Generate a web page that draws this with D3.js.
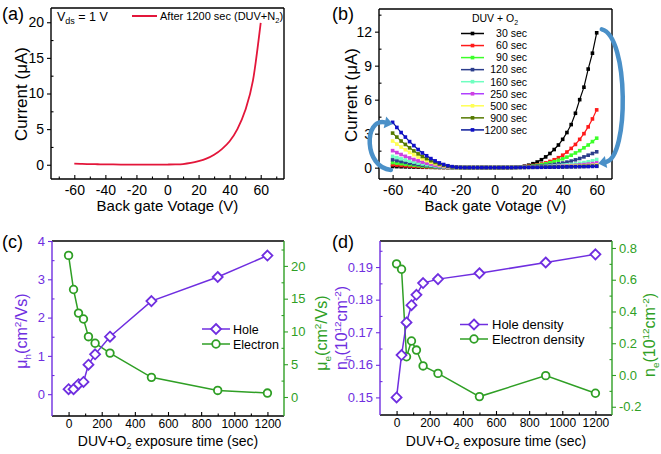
<!DOCTYPE html>
<html><head><meta charset="utf-8">
<script src="https://cdn.jsdelivr.net/npm/d3@7"></script>
<style>body{margin:0;background:#fff}svg{display:block}</style>
</head><body><svg id="c" width="661" height="454"></svg>
<script>
// ---------- DATA ----------
// Panel (a)
const voltsA = [-60,-55,-50,-45,-40,-35,-30,-25,-20,-15,-10,-5,0,5,10,15,20,25,30,35,40,45,50,55,60];
const currentA = [0.15,0.12,0.09,0.07,0.05,0.04,0.03,0.02,0.02,0.02,0.02,0.02,0.03,0.05,0.1,0.25,0.5,0.85,1.4,2.2,3.3,5.0,7.6,11.8,19.9];
// Panel (b)
const voltsB = [-60,-57.5,-55,-52.5,-50,-47.5,-45,-42.5,-40,-37.5,-35,-32.5,-30,-27.5,-25,-22.5,-20,-17.5,-15,-12.5,-10,-7.5,-5,-2.5,0,2.5,5,7.5,10,12.5,15,17.5,20,22.5,25,27.5,30,32.5,35,37.5,40,42.5,45,47.5,50,52.5,55,57.5,60];
const seriesNamesB = ["30 sec","60 sec","90 sec","120 sec","160 sec","250 sec","500 sec","900 sec","1200 sec"];
const i30 = [0.1,0.09,0.08,0.07,0.06,0.05,0.04,0.035,0.03,0.025,0.02,0.015,0.01,0.01,0.01,0.01,0.01,0.01,0.01,0.01,0.01,0.01,0.01,0.01,0.01,0.01,0.01,0.015,0.02,0.04,0.07,0.13,0.22,0.35,0.5,0.7,0.95,1.25,1.6,2.0,2.5,3.1,3.8,4.8,6.0,7.1,8.7,10.1,11.9];
const i60 = [0.26,0.23,0.2,0.17,0.15,0.12,0.1,0.08,0.065,0.05,0.035,0.025,0.02,0.015,0.01,0.01,0.01,0.01,0.01,0.01,0.01,0.01,0.01,0.01,0.01,0.01,0.01,0.015,0.02,0.04,0.06,0.09,0.14,0.19,0.25,0.33,0.42,0.55,0.7,0.88,1.1,1.38,1.7,2.05,2.5,3.0,3.6,4.3,5.1];
const i90 = [0.45,0.4,0.35,0.3,0.26,0.22,0.18,0.15,0.12,0.09,0.07,0.05,0.035,0.02,0.015,0.01,0.01,0.01,0.01,0.01,0.01,0.01,0.01,0.01,0.01,0.01,0.01,0.015,0.02,0.03,0.04,0.06,0.1,0.15,0.2,0.27,0.34,0.43,0.53,0.65,0.78,0.93,1.1,1.3,1.5,1.75,2.0,2.3,2.6];
const i120 = [0.7,0.62,0.54,0.47,0.4,0.34,0.28,0.23,0.18,0.14,0.1,0.07,0.05,0.03,0.02,0.01,0.01,0.01,0.01,0.01,0.01,0.01,0.01,0.01,0.01,0.01,0.015,0.02,0.03,0.04,0.05,0.065,0.08,0.1,0.125,0.155,0.19,0.23,0.28,0.34,0.41,0.49,0.58,0.69,0.81,0.95,1.1,1.25,1.4];
const i160 = [1.0,0.89,0.78,0.68,0.58,0.49,0.4,0.33,0.26,0.2,0.15,0.105,0.07,0.045,0.025,0.01,0.01,0.01,0.01,0.01,0.01,0.01,0.01,0.01,0.01,0.01,0.015,0.02,0.025,0.03,0.04,0.05,0.06,0.07,0.085,0.1,0.12,0.14,0.165,0.19,0.22,0.255,0.29,0.34,0.39,0.45,0.52,0.61,0.72];
const i250 = [1.5,1.33,1.16,1.0,0.86,0.72,0.6,0.49,0.39,0.3,0.22,0.155,0.1,0.065,0.035,0.015,0.01,0.01,0.01,0.01,0.01,0.01,0.01,0.01,0.01,0.01,0.01,0.015,0.02,0.025,0.03,0.035,0.045,0.05,0.06,0.07,0.08,0.095,0.11,0.125,0.14,0.16,0.185,0.21,0.24,0.27,0.31,0.36,0.42];
const i500 = [2.35,2.08,1.82,1.58,1.35,1.14,0.94,0.77,0.62,0.47,0.35,0.25,0.16,0.1,0.05,0.025,0.01,0.01,0.01,0.01,0.01,0.01,0.01,0.01,0.01,0.01,0.01,0.015,0.015,0.02,0.025,0.03,0.035,0.04,0.045,0.05,0.06,0.07,0.08,0.09,0.1,0.11,0.125,0.14,0.155,0.17,0.19,0.21,0.24];
const i900 = [3.05,2.7,2.35,2.05,1.75,1.48,1.22,0.99,0.8,0.61,0.46,0.32,0.21,0.13,0.07,0.03,0.015,0.01,0.01,0.01,0.01,0.01,0.01,0.01,0.01,0.01,0.01,0.01,0.015,0.015,0.02,0.025,0.03,0.03,0.035,0.04,0.045,0.05,0.06,0.065,0.07,0.08,0.09,0.095,0.105,0.115,0.125,0.135,0.15];
const i1200 = [4.0,3.55,3.1,2.7,2.3,1.95,1.6,1.3,1.05,0.8,0.6,0.42,0.28,0.17,0.09,0.04,0.02,0.01,0.01,0.01,0.01,0.01,0.01,0.01,0.01,0.01,0.01,0.01,0.01,0.015,0.02,0.02,0.025,0.03,0.03,0.035,0.04,0.045,0.05,0.055,0.06,0.07,0.075,0.08,0.09,0.095,0.1,0.11,0.12];
// Panels (c), (d)
const expTime = [0,30,60,90,120,160,250,500,900,1200];
const holeMobility = [0.13,0.13,0.26,0.32,0.77,1.04,1.5,2.43,3.06,3.62];
const electronMobility = [21.6,16.4,12.8,11.9,9.2,8.2,6.7,3.0,1.0,0.6];
const holeDensity = [0.150,0.163,0.173,0.1783,0.1815,0.1851,0.1863,0.1881,0.1914,0.1939];
const electronDensity = [0.70,0.666,0.115,0.214,0.157,0.057,0.01,-0.136,-0.004,-0.115];
// ticks
const ticksAX = [-60,-40,-20,0,20,40,60];
const ticksAY = [0,5,10,15,20];
const ticksBY = [0,3,6,9,12];
const ticksTime = [0,200,400,600,800,1000,1200];
const ticksCL = [0,1,2,3,4];
const ticksCR = [0,5,10,15,20];
const ticksDL = [0.15,0.16,0.17,0.18,0.19];
const ticksDR = [-0.2,0.0,0.2,0.4,0.6,0.8];

// ---------- STYLE ----------
const FONT = '"Liberation Sans", Arial, Helvetica, sans-serif';
const PURPLE = "#6f2ee0", GREEN = "#2f9f25";
const colorsB = ["#000000","#ff1a1a","#3cff2a","#2c3e8c","#6fffc0","#b040ff","#ffff55","#557a00","#0a1a99"];
const markerB = ["#000000","#ff1a1a","#3cff2a","#2c3e8c","#6fffc0","#d040e0","#ffff55","#557a00","#1010c8"];
const svg = d3.select("#c").style("font-family", FONT);
const fmt = d => String(d).replace("\u2212","-");

function addAxis(gen, tr, color, fs) {
  const g = svg.append("g").attr("transform", tr).call(gen)
    .attr("font-family", FONT).attr("font-size", fs);
  g.select(".domain").remove();
  g.selectAll("line").attr("stroke", color).attr("stroke-width", 1.1);
  g.selectAll("text").attr("fill", color);
  return g;
}
function minorVals(lo, hi, step, majors) {
  const out = [];
  for (let v = lo; v <= hi + 1e-9; v += step) {
    const r = Math.round(v * 1e6) / 1e6;
    if (!majors.some(m => Math.abs(m - r) < 1e-9)) out.push(r);
  }
  return out;
}
function frame(x0, x1, y0, y1, cl, cr) {
  svg.append("line").attr("x1", x0).attr("x2", x1).attr("y1", y0).attr("y2", y0).attr("stroke", "#000").attr("stroke-width", 1.4);
  svg.append("line").attr("x1", x0).attr("x2", x1).attr("y1", y1).attr("y2", y1).attr("stroke", "#000").attr("stroke-width", 1.4);
  svg.append("line").attr("x1", x0).attr("x2", x0).attr("y1", y0).attr("y2", y1).attr("stroke", cl).attr("stroke-width", 1.4);
  svg.append("line").attr("x1", x1).attr("x2", x1).attr("y1", y0).attr("y2", y1).attr("stroke", cr).attr("stroke-width", 1.4);
}
function panelLabel(txt, x, y) {
  svg.append("text").attr("x", x).attr("y", y).attr("font-size", 18).attr("fill", "#000").text(txt);
}
function yTitle(parts, x, y, size, color) {
  const t = svg.append("text").attr("transform", `translate(${x},${y}) rotate(-90)`)
    .attr("text-anchor", "middle").attr("font-size", size).attr("fill", color);
  parts.forEach(p => {
    const s = t.append("tspan").text(p.t);
    if (p.sub) s.attr("dy", size*0.25).attr("font-size", size*0.62);
    if (p.sup) s.attr("dy", -size*0.38).attr("font-size", size*0.62);
    if (p.back) s.attr("dy", p.back);
  });
  return t;
}

// ---------- PANEL (a) ----------
const xa = d3.scaleLinear().domain([-75,75]).range([51,284]);
const ya = d3.scaleLinear().domain([-2,22]).range([179,8]);
addAxis(d3.axisBottom(xa).tickValues(ticksAX).tickSize(-4).tickPadding(6).tickFormat(fmt), "translate(0,179)", "#000", 14);
addAxis(d3.axisBottom(xa).tickValues(minorVals(-70,70,10,ticksAX)).tickSize(-2.5).tickFormat(""), "translate(0,179)", "#000", 14);
addAxis(d3.axisLeft(ya).tickValues(ticksAY).tickSize(4).tickPadding(3).tickFormat(fmt), "translate(51,0)", "#000", 14);
addAxis(d3.axisLeft(ya).tickValues([2.5,7.5,12.5,17.5]).tickSize(-2.5).tickFormat(""), "translate(51,0)", "#000", 14);
frame(51,284,8,179,"#000","#000");
svg.append("path").datum(voltsA.map((v,i)=>[v,currentA[i]]))
  .attr("d", d3.line().x(d=>xa(d[0])).y(d=>ya(d[1])).curve(d3.curveMonotoneX))
  .attr("fill","none").attr("stroke","#e3163a").attr("stroke-width",1.8);
// legend (a)
{
  const t = svg.append("text").attr("x", 57).attr("y", 21).attr("font-size", 12.5);
  t.append("tspan").text("V");
  t.append("tspan").attr("dy", 3).attr("font-size", 9).text("ds");
  t.append("tspan").attr("dy", -3).text(" = 1 V");
  svg.append("line").attr("x1", 132).attr("x2", 157).attr("y1", 16).attr("y2", 16).attr("stroke", "#e3163a").attr("stroke-width", 2);
  const t2 = svg.append("text").attr("x", 160).attr("y", 20).attr("font-size", 11);
  t2.append("tspan").text("After 1200 sec (DUV+N");
  t2.append("tspan").attr("dy", 3).attr("font-size", 7.5).text("2");
  t2.append("tspan").attr("dy", -3).text(")");
}
svg.append("text").attr("x", 167.5).attr("y", 211).attr("text-anchor","middle").attr("font-size", 15).text("Back gate Votage (V)");
yTitle([{t:"Current (\u03bcA)"}], 27, 94, 17, "#000");
panelLabel("(a)", 2, 20);

// ---------- PANEL (b) ----------
const xb = d3.scaleLinear().domain([-68,69]).range([379,612]);
const yb = d3.scaleLinear().domain([-1,14]).range([179,9]);
addAxis(d3.axisBottom(xb).tickValues(ticksAX).tickSize(-4).tickPadding(6).tickFormat(fmt), "translate(0,179)", "#000", 14);
addAxis(d3.axisBottom(xb).tickValues(minorVals(-60,60,10,ticksAX)).tickSize(-2.5).tickFormat(""), "translate(0,179)", "#000", 14);
addAxis(d3.axisLeft(yb).tickValues(ticksBY).tickSize(4).tickPadding(3).tickFormat(fmt), "translate(379,0)", "#000", 14);
addAxis(d3.axisLeft(yb).tickValues([1.5,4.5,7.5,10.5,13.5]).tickSize(-2.5).tickFormat(""), "translate(379,0)", "#000", 14);
const seriesB = [i30,i60,i90,i120,i160,i250,i500,i900,i1200];
const lineB = d3.line().x(d=>xb(d[0])).y(d=>yb(d[1]));
seriesB.forEach((s, k) => {
  const pts = voltsB.map((v,i)=>[v, s[i]]);
  svg.append("path").datum(pts).attr("d", lineB).attr("fill","none").attr("stroke", colorsB[k]).attr("stroke-width", 1.2);
  svg.append("g").selectAll("rect").data(pts).join("rect")
    .attr("x", d=>xb(d[0])-1.8).attr("y", d=>yb(d[1])-1.8).attr("width",3.6).attr("height",3.6)
    .attr("fill", markerB[k]);
});
frame(379,612,9,179,"#000","#000");
// legend (b)
{
  const t = svg.append("text").attr("x", 495).attr("y", 22).attr("text-anchor","middle").attr("font-size", 10.5);
  t.append("tspan").text("DUV + O");
  t.append("tspan").attr("dy", 3).attr("font-size", 7).text("2");
  seriesNamesB.forEach((name, k) => {
    const yy = 33.5 + k*12.05;
    svg.append("line").attr("x1", 461).attr("x2", 484).attr("y1", yy).attr("y2", yy).attr("stroke", colorsB[k]).attr("stroke-width", 1.5);
    svg.append("rect").attr("x", 470.7).attr("y", yy-1.8).attr("width", 3.6).attr("height", 3.6).attr("fill", markerB[k]);
    svg.append("text").attr("x", 527).attr("y", yy+3.8).attr("text-anchor","end").attr("font-size", 10.5).text(name);
  });
}
// curved arrows (b)
function arrow(p0, c1, c2, p3) {
  const P = a => [xb(a[0]), yb(a[1])];
  const A = P(p0), B = P(c1), C = P(c2), D = P(p3);
  svg.append("path").attr("d", `M${A}C${B} ${C} ${D}`).attr("fill","none")
    .attr("stroke","#4a90c8").attr("stroke-width",4.5).attr("stroke-linecap","round");
  let dx = D[0]-C[0], dy = D[1]-C[1]; const L = Math.hypot(dx,dy); dx/=L; dy/=L;
  const tip = [D[0]+dx*8, D[1]+dy*8], px = -dy, py = dx;
  svg.append("path").attr("d", `M${tip}L${[D[0]+px*6, D[1]+py*6]}L${[D[0]-px*6, D[1]-py*6]}Z`).attr("fill","#4a90c8");
}
arrow([-61,-0.2],[-77,0.0],[-77,4.4],[-64.5,4.0]);
arrow([63,12.2],[79,11.6],[79,0.9],[65.5,0.5]);
svg.append("text").attr("x", 495.5).attr("y", 211).attr("text-anchor","middle").attr("font-size", 15).text("Back gate Votage (V)");
yTitle([{t:"Current (\u03bcA)"}], 357, 95, 17, "#000");
panelLabel("(b)", 332, 20);

// ---------- PANEL (c) ----------
const xc = d3.scaleLinear().domain([-100,1300]).range([52,284]);
const ycl = d3.scaleLinear().domain([-0.57,4.0]).range([416,241]);
const ycr = d3.scaleLinear().domain([-2.9,23.8]).range([416,241]);
addAxis(d3.axisBottom(xc).tickValues(ticksTime).tickSize(-4).tickPadding(3).tickFormat(fmt), "translate(0,416)", "#000", 12);
addAxis(d3.axisBottom(xc).tickValues(minorVals(100,1100,200,[])).tickSize(-2.5).tickFormat(""), "translate(0,416)", "#000", 12);
addAxis(d3.axisLeft(ycl).tickValues(ticksCL).tickSize(4).tickPadding(3).tickFormat(fmt), "translate(52,0)", PURPLE, 13);
addAxis(d3.axisLeft(ycl).tickValues([0.5,1.5,2.5,3.5]).tickSize(-2.5).tickFormat(""), "translate(52,0)", PURPLE, 13);
addAxis(d3.axisRight(ycr).tickValues(ticksCR).tickSize(4).tickPadding(3).tickFormat(fmt), "translate(284,0)", GREEN, 13);
addAxis(d3.axisRight(ycr).tickValues([2.5,7.5,12.5,17.5,22.5]).tickSize(-2.5).tickFormat(""), "translate(284,0)", GREEN, 13);
frame(52,284,241,416,PURPLE,GREEN);
function diamond(g, cx, cy, color) {
  g.append("path").attr("d", `M${cx},${cy-5}L${cx+5},${cy}L${cx},${cy+5}L${cx-5},${cy}Z`)
    .attr("fill","#fff").attr("stroke",color).attr("stroke-width",1.8);
}
function circle(g, cx, cy, color) {
  g.append("circle").attr("cx",cx).attr("cy",cy).attr("r",3.8).attr("fill","#fff").attr("stroke",color).attr("stroke-width",1.8);
}
function seriesPlot(x, y, xs, ys, color, marker) {
  const pts = xs.map((v,i)=>[x(v), y(ys[i])]);
  svg.append("path").attr("d", d3.line()(pts)).attr("fill","none").attr("stroke",color).attr("stroke-width",1.5);
  const g = svg.append("g");
  pts.forEach(p => marker(g, p[0], p[1], color));
}
seriesPlot(xc, ycr, expTime, electronMobility, GREEN, circle);
seriesPlot(xc, ycl, expTime, holeMobility, PURPLE, diamond);
// legend (c)
{
  const g = svg.append("g");
  g.append("line").attr("x1",202).attr("x2",230).attr("y1",329).attr("y2",329).attr("stroke",PURPLE).attr("stroke-width",1.5);
  diamond(g, 216, 329, PURPLE);
  g.append("text").attr("x",233).attr("y",333.5).attr("font-size",12.5).text("Hole");
  g.append("line").attr("x1",202).attr("x2",230).attr("y1",344).attr("y2",344).attr("stroke",GREEN).attr("stroke-width",1.5);
  circle(g, 216, 344, GREEN);
  g.append("text").attr("x",233).attr("y",348.5).attr("font-size",12.5).text("Electron");
}
function timeTitle(cx) {
  const t = svg.append("text").attr("x", cx).attr("y", 446).attr("text-anchor","middle").attr("font-size", 14);
  t.append("tspan").text("DUV+O");
  t.append("tspan").attr("dy", 3).attr("font-size", 9).text("2");
  t.append("tspan").attr("dy", -3).text(" exposure time (sec)");
}
timeTitle(168);
yTitle([{t:"\u03bc"},{t:"h",sub:true},{t:"(cm",back:-16*0.25},{t:"2",sup:true},{t:"/Vs)",back:16*0.38}], 27, 331, 16, PURPLE);
yTitle([{t:"\u03bc"},{t:"e",sub:true},{t:"(cm",back:-16*0.25},{t:"2",sup:true},{t:"/Vs)",back:16*0.38}], 327, 333, 16, GREEN);
panelLabel("(c)", 2, 248);

// ---------- PANEL (d) ----------
const xd = d3.scaleLinear().domain([-100,1300]).range([380,612]);
const ydl = d3.scaleLinear().domain([0.1446,0.198]).range([415,241]);
const ydr = d3.scaleLinear().domain([-0.252,0.844]).range([415,241]);
addAxis(d3.axisBottom(xd).tickValues(ticksTime).tickSize(-4).tickPadding(3).tickFormat(fmt), "translate(0,415)", "#000", 12);
addAxis(d3.axisBottom(xd).tickValues(minorVals(100,1100,200,[])).tickSize(-2.5).tickFormat(""), "translate(0,415)", "#000", 12);
addAxis(d3.axisLeft(ydl).tickValues(ticksDL).tickSize(4).tickPadding(3).tickFormat(d3.format(".2f")), "translate(380,0)", PURPLE, 13);
addAxis(d3.axisLeft(ydl).tickValues([0.155,0.165,0.175,0.185,0.195]).tickSize(-2.5).tickFormat(""), "translate(380,0)", PURPLE, 13);
addAxis(d3.axisRight(ydr).tickValues(ticksDR).tickSize(4).tickPadding(3).tickFormat(d => d3.format(".1f")(d).replace("\u2212","-")), "translate(612,0)", GREEN, 13);
addAxis(d3.axisRight(ydr).tickValues([-0.1,0.1,0.3,0.5,0.7]).tickSize(-2.5).tickFormat(""), "translate(612,0)", GREEN, 13);
frame(380,612,241,415,PURPLE,GREEN);
seriesPlot(xd, ydr, expTime, electronDensity, GREEN, circle);
seriesPlot(xd, ydl, expTime, holeDensity, PURPLE, diamond);
{
  const g = svg.append("g");
  g.append("line").attr("x1",460).attr("x2",488).attr("y1",324.5).attr("y2",324.5).attr("stroke",PURPLE).attr("stroke-width",1.5);
  diamond(g, 474, 324.5, PURPLE);
  g.append("text").attr("x",492).attr("y",329).attr("font-size",13).text("Hole density");
  g.append("line").attr("x1",460).attr("x2",488).attr("y1",339).attr("y2",339).attr("stroke",GREEN).attr("stroke-width",1.5);
  circle(g, 474, 339, GREEN);
  g.append("text").attr("x",492).attr("y",343.5).attr("font-size",13).text("Electron density");
}
timeTitle(496);
yTitle([{t:"n"},{t:"h",sub:true},{t:"(10",back:-16*0.25},{t:"12",sup:true},{t:"cm",back:16*0.38},{t:"-2",sup:true},{t:")",back:16*0.38}], 347, 328, 16, PURPLE);
yTitle([{t:"n"},{t:"e",sub:true},{t:"(10",back:-16*0.25},{t:"12",sup:true},{t:"cm",back:16*0.38},{t:"-2",sup:true},{t:")",back:16*0.38}], 655, 335, 16, GREEN);
panelLabel("(d)", 332, 248);
</script></body></html>
